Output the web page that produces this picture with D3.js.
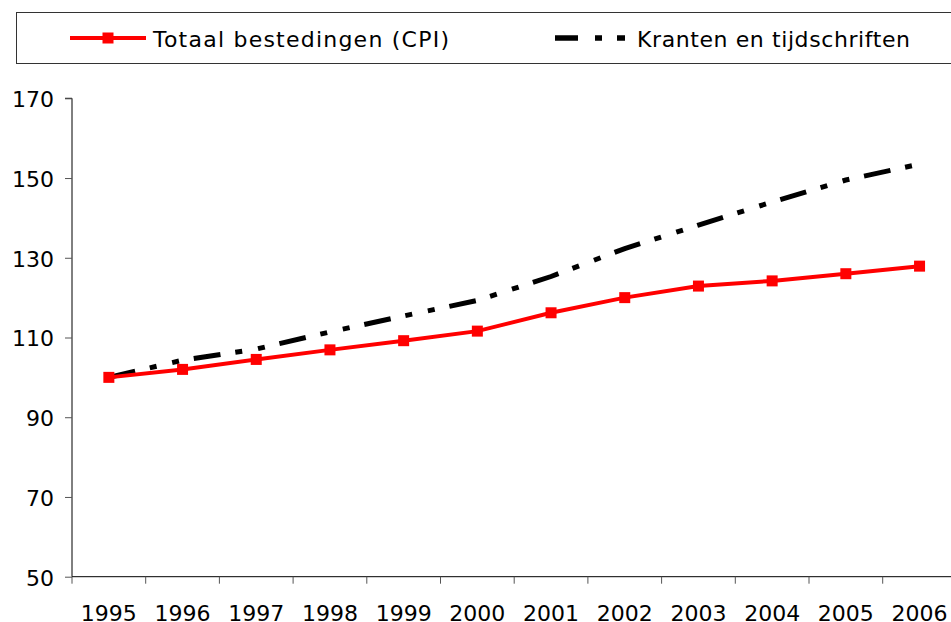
<!DOCTYPE html>
<html>
<head>
<meta charset="utf-8">
<script src="https://cdn.jsdelivr.net/npm/d3@7"></script>
<style>
	body { margin: 0; background: #fff; }
	svg { display: block; }
	text { font-family: "DejaVu Sans", Verdana, sans-serif; font-size: 22px; fill: #000; }
</style>
</head>
<body>
<script>
( function() {

	"use strict";

	//data
	var years = [ "1995", "1996", "1997", "1998", "1999", "2000", "2001", "2002", "2003", "2004", "2005", "2006" ],
		cpiValues = [ 100, 102, 104.5, 106.9, 109.2, 111.6, 116.2, 120, 122.9, 124.2, 126, 127.9 ],
		krantenValues = [ 100, 104.3, 107.1, 111.4, 115.4, 119.3, 125.3, 132.3, 138.2, 144, 149.5, 153.5 ],
		yTicks = [ 50, 70, 90, 110, 130, 150, 170 ],
		seriesNames = [ "Totaal bestedingen (CPI)", "Kranten en tijdschriften" ];

	var width = 951,
		height = 622,
		plotLeft = 72,
		bandWidth = 73.7,
		plotTop = 98.3,
		plotBottom = 576.7,
		dashPattern = "27,15,7,16,7,15";

	var svg = d3.select( "body" ).append( "svg" )
		.attr( "width", width )
		.attr( "height", height );

	var x = d3.scaleBand()
		.domain( years )
		.range( [ plotLeft, plotLeft + years.length * bandWidth ] )
		.padding( 0 );

	var y = d3.scaleLinear()
		.domain( [ 50, 170 ] )
		.range( [ plotBottom, plotTop ] );

	var cx = function( d, i ) { return x( years[ i ] ) + x.bandwidth() / 2; };

	//y axis
	var yAxis = d3.axisLeft( y ).tickValues( yTicks ).tickSize( 7 ).tickPadding( 11 );
	var gy = svg.append( "g" )
		.attr( "transform", "translate(" + plotLeft + ",0)" )
		.call( yAxis );
	gy.select( ".domain" ).attr( "d", "M" + ( -7 ) + "," + y( 170 ) + "H0V" + y( 50 ) ).attr( "stroke", "#000" );
	gy.selectAll( ".tick line" ).attr( "stroke", "#555" );
	gy.selectAll( "text" ).attr( "dy", "0.38em" ).style( "font-size", "22px" ).attr( "fill", "#000" );

	//x axis: line, ticks on category boundaries, labels in the middle
	var gx = svg.append( "g" ).attr( "class", "x-axis" );
	gx.append( "line" )
		.attr( "x1", plotLeft ).attr( "x2", width )
		.attr( "y1", y( 50 ) ).attr( "y2", y( 50 ) )
		.attr( "stroke", "#000" );
	gx.selectAll( "line.xtick" ).data( years )
		.enter().append( "line" )
			.attr( "class", "xtick" )
			.attr( "x1", function( d ) { return x( d ); } )
			.attr( "x2", function( d ) { return x( d ); } )
			.attr( "y1", y( 50 ) ).attr( "y2", y( 50 ) + 7 )
			.attr( "stroke", "#555" );
	gx.selectAll( "text" ).data( years )
		.enter().append( "text" )
			.attr( "x", function( d ) { return x( d ) + x.bandwidth() / 2; } )
			.attr( "y", 621 )
			.attr( "text-anchor", "middle" )
			.text( function( d ) { return d; } );

	//lines
	var line = d3.line()
		.x( cx )
		.y( function( d ) { return y( d ); } );

	svg.append( "path" )
		.datum( krantenValues )
		.attr( "d", line )
		.attr( "fill", "none" )
		.attr( "stroke", "#000" )
		.attr( "stroke-width", 5 )
		.attr( "stroke-dasharray", dashPattern );

	svg.append( "path" )
		.datum( cpiValues )
		.attr( "d", line )
		.attr( "fill", "none" )
		.attr( "stroke", "#ff0000" )
		.attr( "stroke-width", 4 );

	svg.selectAll( "rect.marker" ).data( cpiValues )
		.enter().append( "rect" )
			.attr( "class", "marker" )
			.attr( "x", function( d, i ) { return cx( d, i ) - 5.5; } )
			.attr( "y", function( d ) { return y( d ) - 5.5; } )
			.attr( "width", 11 ).attr( "height", 11 )
			.attr( "fill", "#ff0000" );

	//legend
	var legend = svg.append( "g" ).attr( "class", "legend" );
	legend.append( "rect" )
		.attr( "x", 16.5 ).attr( "y", 12.5 )
		.attr( "width", width ).attr( "height", 51 )
		.attr( "fill", "none" )
		.attr( "stroke", "#333" );
	var legendY = 38;
	legend.append( "line" )
		.attr( "x1", 70 ).attr( "x2", 146 )
		.attr( "y1", legendY ).attr( "y2", legendY )
		.attr( "stroke", "#ff0000" ).attr( "stroke-width", 4 );
	legend.append( "rect" )
		.attr( "x", 108 - 5.5 ).attr( "y", legendY - 5.5 )
		.attr( "width", 11 ).attr( "height", 11 )
		.attr( "fill", "#ff0000" );
	legend.append( "text" )
		.attr( "x", 153 ).attr( "y", legendY ).attr( "dy", "0.39em" )
		.attr( "textLength", 296 ).attr( "lengthAdjust", "spacing" )
		.text( seriesNames[ 0 ] );
	legend.append( "line" )
		.attr( "x1", 555 ).attr( "x2", 625 )
		.attr( "y1", legendY ).attr( "y2", legendY )
		.attr( "stroke", "#000" ).attr( "stroke-width", 5.5 )
		.attr( "stroke-dasharray", "23,17,7,15,8,20" );
	legend.append( "text" )
		.attr( "x", 637 ).attr( "y", legendY ).attr( "dy", "0.39em" )
		.attr( "textLength", 273 ).attr( "lengthAdjust", "spacing" )
		.text( seriesNames[ 1 ] );

})();
</script>
</body>
</html>
